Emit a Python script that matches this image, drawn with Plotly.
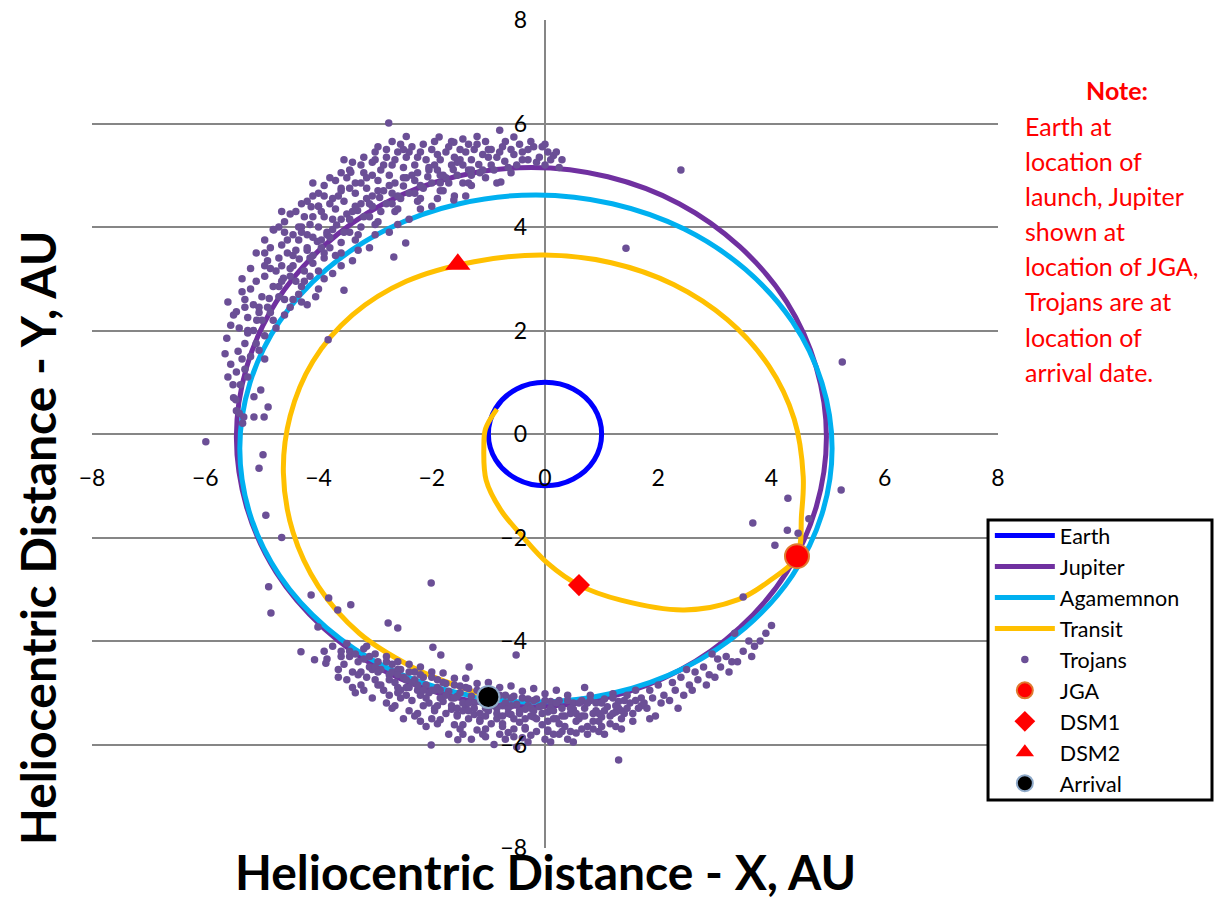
import plotly.graph_objects as go

# ---------------- data ----------------
earth_x = [1, 0.87, 0.5, 0, -0.5, -0.87, -1, -0.87, -0.5, 0, 0.5, 0.87, 1]
earth_y = [0, 0.5, 0.87, 1, 0.87, 0.5, 0, -0.5, -0.87, -1, -0.87, -0.5, 0]

jupiter_x = [-0.24, 1.11, 2.37, 3.44, 4.27, 4.79, 4.97, 4.79, 4.27, 3.44, 2.37, 1.11, -0.24,
             -1.59, -2.85, -3.92, -4.75, -5.27, -5.45, -5.27, -4.75, -3.92, -2.85, -1.59, -0.24]
jupiter_y = [-5.27, -5.09, -4.57, -3.74, -2.67, -1.41, -0.06, 1.29, 2.55, 3.62, 4.45, 4.97, 5.15,
             4.97, 4.45, 3.62, 2.55, 1.29, -0.06, -1.41, -2.67, -3.74, -4.57, -5.09, -5.27]

agam_x = [-0.16, 1.19, 2.46, 3.54, 4.37, 4.89, 5.07, 4.89, 4.37, 3.54, 2.46, 1.19, -0.16,
          -1.51, -2.78, -3.86, -4.69, -5.21, -5.39, -5.21, -4.69, -3.86, -2.78, -1.51, -0.16]
agam_y = [-5.18, -5.01, -4.52, -3.74, -2.73, -1.55, -0.28, 0.99, 2.17, 3.18, 3.96, 4.45, 4.62,
          4.45, 3.96, 3.18, 2.17, 0.99, -0.28, -1.55, -2.73, -3.74, -4.52, -5.01, -5.18]

transit_x = [-0.85, -1.05, -1.08, -1.04, -0.78, -0.42, 0.05, 0.6, 1.34, 2.46, 3.41, 3.95, 4.45,
             4.53, 4.56, 4.40, 3.95, 3.22, 2.27, 1.17, -0.02, -1.25, -2.45, -3.40, -4.10,
             -4.50, -4.62, -4.45, -4.00, -3.28, -2.35, -1.74, -1.0]
transit_y = [0.48, 0.1, -0.25, -0.89, -1.47, -1.95, -2.5, -2.92, -3.21, -3.4, -3.2, -2.85, -2.36,
             -1.56, -0.82, 0.29, 1.32, 2.21, 2.89, 3.31, 3.46, 3.33, 2.95, 2.30, 1.40,
             0.35, -0.75, -1.90, -2.95, -3.85, -4.50, -4.79, -5.08]

trojans_l4 = [
    (-5.45, 0.45), (-5.5, 0.7), (-5.38, 0.95), (-5.6, 1.1), (-5.3, 1.25), (-5.55, 1.35), (-5.2, 1.5),
    (-5.42, 1.6), (-5.05, 1.62), (-5.3, 1.75), (-5.62, 1.85), (-4.95, 1.9), (-5.15, 2.0), (-5.4, 2.05),
    (-5.0, 2.2), (-5.25, 2.25), (-4.85, 2.35), (-5.5, 2.3), (-5.34, 0.21), (-5.32, 0.33), (-5.4, 0.4),
    (-5.14, 0.33), (-4.96, 0.33), (-4.89, 0.52), (-5.14, 0.72), (-5.46, 0.66), (-5.51, 0.95), (-5.02, 0.85),
    (-5.09, 2.20), (-5.45, 2.36), (-4.75, 2.05), (-5.25, 2.0), (-4.9, 2.45), (-5.6, 2.55), (-4.6, 2.3), (-5.3, 2.6),
    (-4.87, 2.62), (-5.2, 2.8), (-4.5, 2.45), (-4.7, 2.85), (-5.05, 2.45), (-4.35, 2.7), (-5.35, 3.0),
    (-4.95, 3.05), (-4.6, 2.6), (-4.2, 2.5),
    (-4.62, 3.01), (-4.95, 3.25), (-4.3, 2.85), (-4.45, 3.25), (-4.8, 2.85), (-4.15, 3.05), (-5.1, 3.5),
    (-4.7, 3.4), (-4.4, 2.95), (-4.0, 2.8), (-4.85, 3.6),
    (-4.34, 3.38), (-4.65, 3.65), (-4.0, 3.15), (-4.2, 3.6), (-4.5, 3.2), (-3.9, 3.4), (-4.8, 3.95),
    (-4.45, 3.85), (-4.1, 3.3), (-3.75, 3.1), (-4.3, 4.0),
    (-4.02, 3.72), (-4.35, 4.0), (-3.7, 3.45), (-3.85, 3.9), (-4.2, 3.55), (-3.6, 3.7), (-4.5, 4.25),
    (-4.1, 4.2), (-3.8, 3.6), (-3.4, 3.35), (-4.0, 4.4),
    (-3.68, 4.04), (-4.0, 4.4), (-3.35, 3.75), (-3.5, 4.25), (-3.85, 3.85), (-3.25, 4.0), (-4.1, 4.6),
    (-3.75, 4.55), (-3.45, 3.9), (-3.1, 3.6), (-3.6, 4.75),
    (-3.31, 4.32), (-3.6, 4.7), (-3.0, 4.05), (-3.15, 4.55), (-3.45, 4.15), (-2.9, 4.3), (-3.7, 4.9),
    (-3.35, 4.85), (-3.1, 4.2), (-2.75, 3.9), (-3.2, 5.05),
    (-2.92, 4.57), (-3.15, 4.95), (-2.65, 4.3), (-2.75, 4.8), (-3.05, 4.4), (-2.55, 4.55), (-3.25, 5.2),
    (-2.9, 5.1), (-2.7, 4.45), (-2.4, 4.15), (-2.8, 5.35), (-3.0, 5.45),
    (-2.50, 4.79), (-2.7, 5.2), (-2.25, 4.5), (-2.35, 5.0), (-2.6, 4.6), (-2.15, 4.75), (-2.8, 5.5),
    (-2.45, 5.35), (-2.3, 4.65), (-2.0, 4.4), (-2.55, 5.6),
    (-2.07, 4.97), (-2.25, 5.35), (-1.85, 4.7), (-1.95, 5.2), (-2.2, 4.8), (-1.75, 4.95), (-2.35, 5.55),
    (-2.0, 5.5), (-1.85, 4.85), (-1.6, 4.6),
    (-1.62, 5.11), (-1.75, 5.45), (-1.45, 4.85), (-1.5, 5.3), (-1.8, 5.0), (-1.35, 5.1), (-1.65, 5.65), (-1.4, 4.6),
    (-1.17, 5.21), (-1.25, 5.5), (-1.05, 4.95), (-1.1, 5.4), (-1.3, 5.1), (-0.95, 5.2), (-1.2, 5.75), (-0.85, 4.85),
    (-0.71, 5.27), (-0.75, 5.55), (-0.6, 5.05), (-0.55, 5.4), (-0.85, 5.35), (-0.8, 5.87), (-0.5, 5.2),
    (-0.3, 5.3), (-0.2, 5.55), (-0.1, 5.35), (0.05, 5.45), (-0.4, 5.45), (0.0, 5.2), (0.15, 5.38),
    (-0.55, 5.74), (0.25, 5.15),
]

trojans_l4_extra = [
    (-5.15, 2.5), (-4.8, 2.2), (-5.35, 2.75), (-4.65, 2.95), (-5.0, 2.65), (-4.45, 2.6), (-5.2, 3.2), (-4.9, 3.35),
    (-4.55, 3.5), (-4.25, 3.15), (-4.75, 3.15), (-4.1, 3.45), (-4.95, 3.75), (-4.6, 3.9), (-4.35, 3.75), (-3.95, 3.6),
    (-4.2, 3.85), (-3.9, 3.5), (-4.45, 3.45), (-3.8, 3.8), (-4.6, 4.1), (-4.25, 4.2), (-4.0, 4.0), (-3.6, 3.5),
    (-3.9, 4.2), (-3.55, 3.9), (-4.1, 3.8), (-3.45, 4.15), (-4.3, 4.45), (-3.9, 4.6), (-3.7, 4.35), (-3.3, 3.85),
    (-3.55, 4.5), (-3.2, 4.2), (-3.75, 4.15), (-3.1, 4.45), (-3.9, 4.8), (-3.5, 4.95), (-3.35, 4.65), (-2.95, 4.1),
    (-3.15, 4.75), (-2.8, 4.45), (-3.35, 4.4), (-2.7, 4.65), (-3.45, 5.1), (-3.05, 5.25), (-2.95, 4.9), (-2.6, 4.35),
    (-2.75, 5.0), (-2.4, 4.65), (-2.95, 4.7), (-2.3, 4.9), (-3.0, 5.3), (-2.6, 5.45), (-2.5, 5.15), (-2.2, 4.55),
    (-2.3, 5.2), (-2.0, 4.85), (-2.5, 4.95), (-1.9, 5.1), (-2.5, 5.5), (-2.15, 5.6), (-2.1, 5.3), (-1.8, 4.7),
    (-1.85, 5.3), (-1.55, 5.0), (-2.05, 5.1), (-1.45, 5.2), (-1.95, 5.65), (-1.7, 5.55), (-1.6, 5.35), (-1.35, 4.85),
    (-1.4, 5.45), (-1.1, 5.1), (-1.55, 5.25), (-1.0, 5.35), (-1.45, 5.7), (-1.2, 5.6), (-1.3, 5.0),
    (-0.95, 5.5), (-0.65, 5.15), (-1.05, 5.65), (-0.6, 5.5), (-0.9, 5.1), (-0.45, 5.6),
    (-0.3, 5.5), (-0.15, 5.25), (0.1, 5.3), (-0.05, 5.55), (0.3, 5.3), (0.2, 5.45),
    (-5.25, 1.95), (-5.55, 2.1), (-5.1, 1.75), (-5.35, 1.45), (-5.65, 1.55), (-4.95, 1.45), (-5.25, 1.1), (-5.45, 1.2),
]

trojans_l4_dense = [
    (-5.05, 2.35), (-5.3, 2.45), (-4.7, 2.65), (-5.1, 2.95), (-4.85, 3.2), (-4.5, 3.05), (-4.25, 2.95),
    (-4.65, 3.25), (-4.95, 3.5), (-4.4, 3.55), (-4.15, 3.4), (-4.55, 3.75), (-4.7, 4.0), (-4.3, 3.9),
    (-3.95, 3.75), (-4.15, 4.05), (-4.4, 4.3), (-3.75, 3.95), (-3.95, 4.3), (-4.2, 4.5), (-3.6, 4.15),
    (-3.8, 4.45), (-4.0, 4.65), (-3.4, 4.3), (-3.65, 4.6), (-3.8, 4.95), (-3.25, 4.45), (-3.45, 4.75),
    (-3.6, 5.05), (-3.05, 4.6), (-3.25, 4.85), (-3.4, 5.25), (-2.85, 4.7), (-3.05, 5.0), (-3.2, 5.35),
    (-2.65, 4.85), (-2.85, 5.2), (-2.95, 5.55), (-2.45, 4.95), (-2.65, 5.3), (-2.7, 5.65), (-2.25, 5.05),
    (-2.4, 5.45), (-2.45, 5.75), (-2.05, 5.15), (-2.2, 5.45), (-1.9, 5.4), (-1.85, 5.0), (-1.65, 5.2),
    (-1.7, 4.85), (-1.5, 5.5), (-1.3, 5.3), (-1.35, 5.6), (-1.15, 5.05), (-1.0, 5.5), (-0.8, 5.45),
    (-0.7, 5.65), (-0.4, 5.3), (-0.25, 5.65), (0.0, 5.6), (-4.05, 2.65), (-4.3, 2.55), (-3.9, 3.0),
    (-3.6, 3.25), (-3.3, 3.55), (-3.0, 3.85), (-2.6, 4.05), (-2.2, 4.35), (-1.9, 4.55), (-1.3, 4.8),
    (-4.65, 4.3), (-4.1, 4.85), (-3.55, 5.3),
]

trojans_l5 = [
    (-3.75, -4.1), (-3.6, -4.3), (-3.85, -4.35), (-3.5, -4.05), (-3.65, -4.55), (-3.9, -4.2),
    (-3.3, -4.4), (-3.2, -4.15), (-3.4, -4.6), (-3.1, -4.5), (-3.5, -4.75), (-3.25, -4.85), (-3.45, -4.3),
    (-3.15, -4.7), (-3.35, -5.0),
    (-2.9, -4.55), (-2.8, -4.3), (-3.0, -4.75), (-2.75, -4.65), (-2.95, -4.4), (-2.85, -4.95), (-3.05, -5.1),
    (-2.7, -4.45), (-2.8, -5.2), (-3.0, -4.25),
    (-2.5, -4.7), (-2.4, -4.45), (-2.6, -4.9), (-2.35, -4.8), (-2.55, -4.55), (-2.45, -5.05), (-2.65, -5.25),
    (-2.3, -4.6), (-2.4, -5.35), (-2.6, -4.4), (-2.5, -5.5),
    (-2.1, -4.85), (-2.0, -4.6), (-2.2, -5.05), (-1.95, -4.95), (-2.15, -4.7), (-2.05, -5.2), (-2.25, -5.4),
    (-1.9, -4.75), (-2.0, -5.5), (-2.2, -4.5), (-2.1, -5.65), (-1.95, -5.3),
    (-1.7, -4.97), (-1.6, -4.72), (-1.8, -5.17), (-1.55, -5.07), (-1.75, -4.82), (-1.65, -5.32), (-1.85, -5.52),
    (-1.5, -4.87), (-1.6, -5.62), (-1.8, -4.62), (-1.7, -5.8), (-1.55, -5.42),
    (-1.3, -5.07), (-1.2, -4.82), (-1.4, -5.27), (-1.15, -5.17), (-1.35, -4.92), (-1.25, -5.42), (-1.45, -5.62),
    (-1.1, -4.97), (-1.2, -5.72), (-1.4, -4.72), (-1.3, -5.9), (-1.15, -5.52),
    (-0.9, -5.15), (-0.8, -4.9), (-1.0, -5.35), (-0.75, -5.25), (-0.95, -5.0), (-0.85, -5.5), (-1.05, -5.7),
    (-0.7, -5.05), (-0.8, -5.8), (-1.0, -4.8), (-0.9, -6.0), (-0.75, -5.6),
    (-0.5, -5.22), (-0.4, -4.97), (-0.6, -5.42), (-0.35, -5.32), (-0.55, -5.07), (-0.45, -5.57), (-0.65, -5.77),
    (-0.3, -5.12), (-0.4, -5.87), (-0.6, -4.87), (-0.5, -6.05), (-0.35, -5.67),
    (-0.1, -5.27), (0.0, -5.02), (-0.2, -5.47), (0.05, -5.37), (-0.15, -5.12), (-0.05, -5.62), (-0.25, -5.82),
    (0.1, -5.17), (0.0, -5.9), (-0.2, -4.92), (0.05, -5.75),
    (0.3, -5.3), (0.4, -5.05), (0.2, -5.5), (0.45, -5.4), (0.25, -5.15), (0.35, -5.65), (0.15, -5.8),
    (0.5, -5.2), (0.4, -5.9), (0.2, -4.95),
    (0.7, -5.3), (0.8, -5.05), (0.6, -5.5), (0.85, -5.4), (0.65, -5.15), (0.75, -5.65), (0.55, -5.78),
    (0.9, -5.2), (0.7, -4.9),
    (1.1, -5.27), (1.2, -5.02), (1.0, -5.47), (1.25, -5.37), (1.05, -5.12), (1.15, -5.6), (0.95, -5.75), (1.3, -5.17),
    (1.5, -5.2), (1.6, -4.95), (1.4, -5.4), (1.65, -5.3), (1.45, -5.05), (1.55, -5.55), (1.35, -5.7), (1.7, -5.1),
    (1.9, -5.1), (2.0, -4.85), (1.8, -5.3), (2.05, -5.2), (1.85, -4.95), (1.95, -5.45),
    (2.3, -4.95), (2.4, -4.7), (2.2, -5.15), (2.45, -5.05), (2.25, -4.8), (2.35, -5.3),
    (2.7, -4.75), (2.8, -4.5), (2.6, -4.95), (2.85, -4.85), (2.65, -4.6),
    (3.1, -4.5), (3.2, -4.3), (3.0, -4.7), (3.25, -4.6), (3.05, -4.35),
    (3.5, -4.2), (3.6, -4.0), (3.4, -4.4), (3.65, -4.3),
    (3.9, -3.85), (4.0, -3.7), (3.8, -4.0),
]

trojans_l5_extra = [
    (-3.55, -4.45), (-3.45, -4.2), (-3.65, -4.7), (-3.4, -4.9),
    (-3.1, -4.3), (-3.05, -4.55), (-3.2, -4.95), (-2.95, -4.85), (-3.15, -4.1), (-3.25, -4.6),
    (-2.7, -4.6), (-2.65, -4.8), (-2.75, -5.05), (-2.6, -4.55), (-2.8, -4.4), (-2.7, -5.3), (-2.55, -5.1),
    (-2.3, -4.75), (-2.25, -4.95), (-2.35, -5.15), (-2.2, -4.65), (-2.4, -4.6), (-2.3, -5.45), (-2.15, -5.25), (-2.45, -4.9),
    (-1.9, -4.9), (-1.85, -5.1), (-1.95, -5.35), (-1.8, -4.8), (-2.0, -4.7), (-1.9, -5.6), (-1.75, -5.4), (-2.05, -5.0),
    (-1.5, -5.0), (-1.45, -5.2), (-1.55, -5.45), (-1.4, -4.9), (-1.6, -4.85), (-1.5, -5.7), (-1.35, -5.5), (-1.65, -5.1),
    (-1.1, -5.1), (-1.05, -5.3), (-1.15, -5.55), (-1.0, -5.0), (-1.2, -4.95), (-1.1, -5.8), (-0.95, -5.6), (-1.25, -5.2),
    (-0.7, -5.2), (-0.65, -5.4), (-0.75, -5.65), (-0.6, -5.1), (-0.8, -5.05), (-0.7, -5.9), (-0.55, -5.7), (-0.85, -5.3),
    (-0.3, -5.25), (-0.25, -5.45), (-0.35, -5.7), (-0.2, -5.15), (-0.4, -5.1), (-0.3, -5.95), (-0.15, -5.75), (-0.45, -5.35),
    (0.1, -5.3), (0.15, -5.5), (0.05, -5.72), (0.2, -5.2), (0.0, -5.15), (0.1, -5.95), (0.25, -5.8), (-0.05, -5.4),
    (0.5, -5.32), (0.55, -5.55), (0.45, -5.75), (0.6, -5.2), (0.4, -5.15), (0.5, -5.95), (0.65, -5.7),
    (0.9, -5.35), (0.95, -5.55), (0.85, -5.7), (1.0, -5.2), (0.8, -5.15), (1.05, -5.8),
    (1.3, -5.3), (1.35, -5.5), (1.25, -5.65), (1.4, -5.15), (1.2, -5.1),
    (1.7, -5.25), (2.1, -5.05), (1.85, -5.5),
    (2.55, -4.85), (2.9, -4.65), (3.3, -4.4), (3.7, -4.1), (3.35, -3.85), (2.95, -4.25), (2.5, -4.55),
]

trojans_l5_dense = [
    (-3.6, -4.2), (-3.35, -4.25), (-3.3, -4.65), (-3.0, -4.5), (-2.9, -4.85), (-2.6, -4.65), (-2.55, -4.95),
    (-2.4, -4.9), (-2.25, -4.85), (-2.1, -5.1), (-2.0, -4.95), (-1.9, -5.25), (-1.75, -5.05), (-1.65, -5.25),
    (-1.55, -5.3), (-1.45, -5.35), (-1.35, -5.2), (-1.25, -5.3), (-1.15, -5.4), (-1.05, -5.45), (-0.95, -5.25),
    (-0.85, -5.4), (-0.75, -5.45), (-0.65, -5.3), (-0.55, -5.5), (-0.45, -5.4), (-0.35, -5.5), (-0.25, -5.3),
    (-0.15, -5.5), (-0.05, -5.25), (0.05, -5.55), (0.15, -5.35), (0.25, -5.6), (0.35, -5.45), (0.45, -5.3),
    (0.55, -5.4), (0.65, -5.45), (0.75, -5.2), (0.85, -5.55), (0.95, -5.4), (1.05, -5.35), (1.15, -5.45),
    (1.25, -5.25), (1.35, -5.35), (1.45, -5.3), (1.55, -5.4), (1.6, -5.15), (1.75, -5.2), (-2.6, -5.0),
    (-2.45, -4.75), (-2.15, -4.95), (-1.85, -4.95), (-1.6, -5.1), (-1.35, -5.35), (-1.0, -5.15), (-0.6, -5.25),
    (-0.2, -5.35), (0.3, -5.45), (0.7, -5.45), (1.2, -5.4), (-3.2, -4.35), (-2.95, -4.6), (-2.75, -4.75),
    (-1.45, -5.8), (-0.55, -5.85), (0.3, -5.75), (1.0, -5.65), (-2.2, -5.55), (-1.05, -5.85), (0.75, -5.8),
]

trojans_scattered = [
    (-2.76, 6.01), (-1.87, 5.74), (-1.61, 5.64), (-3.43, 5.06), (-4.13, 4.39), (-4.79, 3.94), (-3.83, 1.82),
    (-3.55, 2.78), (-2.67, 3.42), (-2.46, 3.69), (-1.61, 4.52), (-0.78, 4.87), (2.4, 5.1), (1.43, 3.59),
    (5.25, 1.39), (5.23, -1.08), (-5.99, -0.15), (-4.98, -0.4), (-5.05, -0.66), (-4.93, -1.57),
    (-4.65, -2.0), (-4.88, -2.95), (-4.84, -3.46), (-4.13, -3.11), (-3.82, -3.17), (-3.43, -3.3),
    (-3.66, -3.4), (-2.77, -3.65), (-2.6, -3.75), (-2.01, -2.88), (-4.01, -3.73), (-3.87, -4.43),
    (-1.98, -4.12), (-1.84, -4.27), (-1.34, -4.5), (-2.01, -6.01), (-1.54, -5.91), (-0.51, -4.27),
    (-4.31, -4.21), (-4.07, -4.36), (1.3, -6.3), (3.67, -1.72), (4.29, -1.24), (4.28, -1.86),
    (4.47, -1.92), (4.06, -2.15), (4.66, -1.64), (3.5, -3.15),
]

jga_xy = (4.45, -2.36)
dsm1_xy = (0.6, -2.92)
dsm2_xy = (-1.54, 3.28)
arrival_xy = (-1.0, -5.08)

tick_vals = [-8, -6, -4, -2, 0, 2, 4, 6, 8]

note_title = "Note:"
note_lines = ["Earth at", "location of", "launch, Jupiter", "shown at", "location of JGA,",
              "Trojans are at", "location of", "arrival date."]

x_title = "Heliocentric Distance - X, AU"
y_title = "Heliocentric Distance - Y, AU"

# ---------------- figure ----------------
trojans = (trojans_l4 + trojans_l4_extra + trojans_l4_dense + trojans_l5 + trojans_l5_extra
           + trojans_l5_dense + trojans_scattered)
tro_x = [p[0] for p in trojans]
tro_y = [p[1] for p in trojans]

fig = go.Figure()
fig.add_trace(go.Scatter(x=earth_x, y=earth_y, mode="lines", name="Earth",
                         line=dict(color="#0000FF", width=5, shape="spline")))
fig.add_trace(go.Scatter(x=jupiter_x, y=jupiter_y, mode="lines", name="Jupiter",
                         line=dict(color="#7030A0", width=5, shape="spline")))
fig.add_trace(go.Scatter(x=agam_x, y=agam_y, mode="lines", name="Agamemnon",
                         line=dict(color="#00B0F0", width=5, shape="spline")))
fig.add_trace(go.Scatter(x=transit_x, y=transit_y, mode="lines", name="Transit",
                         line=dict(color="#FFC000", width=5, shape="spline", smoothing=1.0)))
fig.add_trace(go.Scatter(x=tro_x, y=tro_y, mode="markers", name="Trojans",
                         marker=dict(color="#6B4F96", size=7.5, line=dict(width=0))))
fig.add_trace(go.Scatter(x=[jga_xy[0]], y=[jga_xy[1]], mode="markers", name="JGA",
                         marker=dict(color="#FF0000", size=24, symbol="circle",
                                     line=dict(color="#E07A30", width=2))))
fig.add_trace(go.Scatter(x=[dsm1_xy[0]], y=[dsm1_xy[1]], mode="markers", name="DSM1",
                         marker=dict(color="#FF0000", size=17, symbol="diamond", line=dict(width=0))))
fig.add_trace(go.Scatter(x=[dsm2_xy[0]], y=[dsm2_xy[1]], mode="markers", name="DSM2",
                         marker=dict(color="#FF0000", size=22, symbol="triangle-up", line=dict(width=0))))
fig.add_trace(go.Scatter(x=[arrival_xy[0]], y=[arrival_xy[1]], mode="markers", name="Arrival",
                         marker=dict(color="#000000", size=22, symbol="circle",
                                     line=dict(color="#8EA9C8", width=2))))

annotations = []
annotations.append(dict(text="<b>" + note_title + "</b>", x=1.1313, y=0.9155, xref="paper", yref="paper",
                        xanchor="center", yanchor="middle", showarrow=False,
                        font=dict(family="Lato", size=25, color="#FF0000")))
line_y = [0.872, 0.8297, 0.7874, 0.7452, 0.7029, 0.6606, 0.6171, 0.5749]
for t, yy in zip(note_lines, line_y):
    annotations.append(dict(text=t, x=1.0276, y=yy, xref="paper", yref="paper",
                            xanchor="left", yanchor="middle", showarrow=False,
                            font=dict(family="Lato", size=25, color="#FF0000")))
annotations.append(dict(text="<b>" + x_title + "</b>", x=0.5, y=-0.028, xref="paper", yref="paper",
                        xanchor="center", yanchor="middle", showarrow=False,
                        font=dict(family="Lato", size=48, color="black")))
annotations.append(dict(text="<b>" + y_title + "</b>", x=-0.0596, y=0.3744, xref="paper", yref="paper",
                        xanchor="center", yanchor="middle", showarrow=False, textangle=-90,
                        font=dict(family="Lato", size=48, color="black")))

# legend frame (drawn as a box so its size matches the reference)
shapes = [dict(type="rect", xref="paper", yref="paper", x0=0.989, x1=1.2362, y0=0.058, y1=0.396,
               line=dict(color="black", width=3), fillcolor="white", layer="above")]

fig.update_layout(
    width=1220, height=901,
    margin=dict(l=92, r=222, t=20, b=53),
    plot_bgcolor="white", paper_bgcolor="white",
    font=dict(family="Lato", color="black"),
    showlegend=True,
    legend=dict(x=0.991, y=0.402, xanchor="left", yanchor="top", bgcolor="rgba(0,0,0,0)",
                borderwidth=0, font=dict(family="Lato", size=21.5, color="black"),
                tracegroupgap=0, itemwidth=60),
    annotations=annotations,
    shapes=shapes,
    xaxis=dict(range=[-8, 8], tickvals=tick_vals, showgrid=False, zeroline=True,
               zerolinecolor="#868686", zerolinewidth=2, showline=False, ticks="",
               anchor="free", position=0.5, ticklabelstandoff=28, automargin=False,
               tickfont=dict(family="Lato", size=23, color="black")),
    yaxis=dict(range=[-8, 8], tickvals=tick_vals, showgrid=True, gridcolor="#868686", gridwidth=2,
               zeroline=True, zerolinecolor="#868686", zerolinewidth=2, showline=False, ticks="",
               anchor="free", position=0.5, ticklabelstandoff=18, automargin=False,
               tickfont=dict(family="Lato", size=23, color="black")),
)

fig.write_html("out.html")
